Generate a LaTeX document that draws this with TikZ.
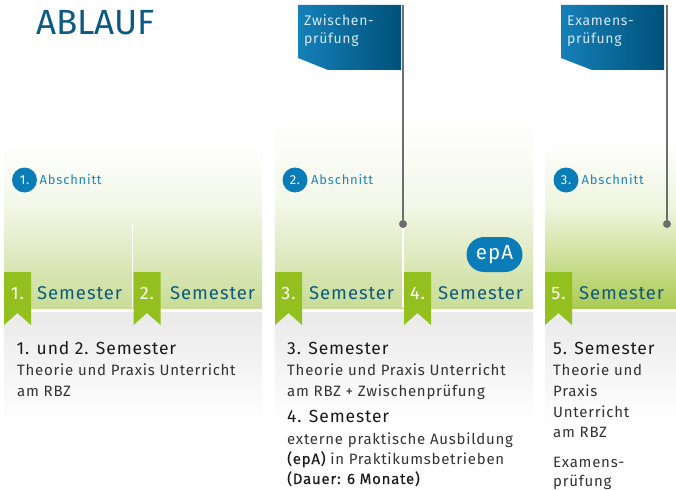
\documentclass[tikz,border=0pt]{standalone}
\usepackage{fontspec}
\setmainfont{Fira Sans}[LetterSpace=5]
\newfontfamily\titlefont{Fira Sans}
\newfontfamily\absfont{Fira Sans}[LetterSpace=6]
\newfontfamily\medfont{Fira Sans}[LetterSpace=5,FakeBold=0.25]
\usetikzlibrary{shapes.misc}
\definecolor{titleblue}{HTML}{0B5A80}
\definecolor{midblue}{HTML}{0A7DB8}
\definecolor{abblue}{HTML}{1F86C0}
\definecolor{flagA}{HTML}{1580B8}
\definecolor{flagB}{HTML}{00517A}
\definecolor{flagtext}{HTML}{D6E8F2}
\definecolor{ribgreen}{HTML}{93C01F}
\definecolor{semblue}{HTML}{0D5A80}
\definecolor{gMid}{HTML}{F3F7E8}
\definecolor{gBot}{HTML}{C9DC96}
\definecolor{gMidC}{HTML}{EEF4DC}
\definecolor{gBotC}{HTML}{ABCA52}
\definecolor{greyA}{HTML}{EAEAEA}
\definecolor{poleg}{HTML}{6E6E6E}
\definecolor{txt}{HTML}{333333}
\definecolor{head}{HTML}{1A1A1A}
\tikzset{
  ribbon/.pic={\fill[ribgreen] (0,0) -- (27,0) -- (27,53) -- (13.5,41) -- (0,53) -- cycle;},
  ribnum/.style={text=white,font=\fontsize{18}{20}\selectfont,inner sep=0pt,anchor=base},
  semlabel/.style={text=semblue,font=\fontsize{18.5}{20}\selectfont,inner sep=0pt,anchor=base west},
  abcircle/.style={circle,fill=midblue,minimum size=25pt,inner sep=0pt,text=white,font=\fontsize{13}{14}\selectfont},
  ablabel/.style={text=abblue,font=\absfont\fontsize{13}{14}\selectfont,inner sep=0pt,anchor=west},
  headline/.style={text=head,font=\fontsize{17.5}{20}\selectfont,inner sep=0pt,anchor=base west},
  bodyline/.style={text=txt,font=\fontsize{15}{18}\selectfont,inner sep=0pt,anchor=base west},
  flagline/.style={text=flagtext,font=\fontsize{14}{16}\selectfont,inner sep=0pt,anchor=base west},
  pole/.style={draw=poleg,line width=1.6pt},
  divider/.style={draw=white,line width=1.2pt},
  dot/.style={circle,fill=poleg,minimum size=8pt,inner sep=0pt},
}
\begin{document}
\begin{tikzpicture}[x=1pt,y=-1pt]
\useasboundingbox (0,0) rectangle (676,489);
% title
\node[text=titleblue,font=\titlefont\fontsize{35}{38}\selectfont,inner sep=0pt,anchor=base west] (title) at (36,35) {ABLAUF};
% upper gradient panels
\fill[top color=white,bottom color=gMid] (4,140) rectangle (262,205);
\fill[top color=gMid,bottom color=gBot] (4,205) rectangle (262,308);
\fill[top color=white,bottom color=gMid] (275,118) rectangle (533,205);
\fill[top color=gMid,bottom color=gBot] (275,205) rectangle (533,308);
\fill[top color=white,bottom color=gMidC] (545,140) rectangle (676,210);
\fill[top color=gMidC,bottom color=gBotC] (545,210) rectangle (676,308);
% lower grey panels
\fill[top color=greyA,bottom color=white] (4,312) rectangle (262,425);
\fill[top color=greyA,bottom color=white] (275,312) rectangle (533,425);
\fill[top color=greyA,bottom color=white] (545,312) rectangle (676,425);
% flags
\shade[left color=flagA,right color=flagB] (298,5) -- (401,5) -- (401,70) -- (328,70) -- (298,58) -- cycle;
\shade[left color=flagA,right color=flagB] (561,5) -- (664,5) -- (664,70) -- (592,70) -- (561,58) -- cycle;
\node[flagline] (zw1) at (304,26) {Zwischen-};
\node[flagline] (zw2) at (304,44) {prüfung};
\node[flagline] (ex1) at (567,26) {Examens-};
\node[flagline] (ex2) at (567,44) {prüfung};
% poles
\coordinate (poleAtop) at (403,5);
\coordinate (poleBtop) at (667,5);
\node[dot] (dotA) at (403,224) {};
\node[dot] (dotB) at (667,224) {};
\draw[pole] (poleAtop) -- (dotA.center);
\draw[pole] (poleBtop) -- (dotB.center);
% dividers
\coordinate (divAtop) at (132.5,224);
\coordinate (divAbot) at (132.5,308);
\coordinate (divBbot) at (403,308);
\draw[divider] (divAtop) -- (divAbot);
\draw[divider] (dotA.south) -- (divBbot);
% Abschnitt markers
\node[abcircle] (c1) at (24.5,180) {1.};
\node[ablabel] (a1) at (39.5,180) {Abschnitt};
\node[abcircle] (c2) at (295,180) {2.};
\node[ablabel] (a2) at (311,180) {Abschnitt};
\node[abcircle] (c3) at (566,180) {3.};
\node[ablabel] (a3) at (581.5,180) {Abschnitt};
% epA
\node[rounded rectangle,fill=midblue,minimum width=56pt,minimum height=35pt,inner sep=0pt,text=white,font=\fontsize{20.5}{22}\selectfont] (epa) at (494.5,254.5) {epA};
% ribbons
\pic at (4,272) {ribbon};
\pic at (133.5,272) {ribbon};
\pic at (275,272) {ribbon};
\pic at (404,272) {ribbon};
\pic at (545,272) {ribbon};
\node[ribnum] (n1) at (17.5,299) {1.};
\node[ribnum] (n2) at (147,299) {2.};
\node[ribnum] (n3) at (288.5,299) {3.};
\node[ribnum] (n4) at (417.5,299) {4.};
\node[ribnum] (n5) at (558.5,299) {5.};
\node[semlabel] (s1) at (37,299) {Semester};
\node[semlabel] (s2) at (170,299) {Semester};
\node[semlabel] (s3) at (309,299) {Semester};
\node[semlabel] (s4) at (438,299) {Semester};
\node[semlabel] (s5) at (579,299) {Semester};
% column 1 text
\node[headline] (h1) at (16.5,354) {1. und 2. Semester};
\node[bodyline] (b11) at (17,375) {Theorie und Praxis Unterricht};
\node[bodyline] (b12) at (17,396) {am RBZ};
% column 2 text
\node[headline] (h2) at (287,354) {3. Semester};
\node[bodyline] (b21) at (287,375) {Theorie und Praxis Unterricht};
\node[bodyline] (b22) at (287,396) {am RBZ + Zwischenprüfung};
\node[headline] (h3) at (287,422) {4. Semester};
\node[bodyline] (b23) at (287,444) {externe praktische Ausbildung};
\node[bodyline] (b24) at (287,464) {{\medfont\color{head}(epA)} in Praktikumsbetrieben};
\node[bodyline,text=head] (b25) at (287,484) {\medfont(Dauer: 6 Monate)};
% column 3 text
\node[headline] (h5) at (553,354) {5. Semester};
\node[bodyline] (b31) at (553,375) {Theorie und};
\node[bodyline] (b32) at (553,396) {Praxis};
\node[bodyline] (b33) at (553,417) {Unterricht};
\node[bodyline] (b34) at (553,437) {am RBZ};
\node[bodyline] (b35) at (553,467) {Examens-};
\node[bodyline] (b36) at (553,486) {prüfung};
\end{tikzpicture}
\end{document}
